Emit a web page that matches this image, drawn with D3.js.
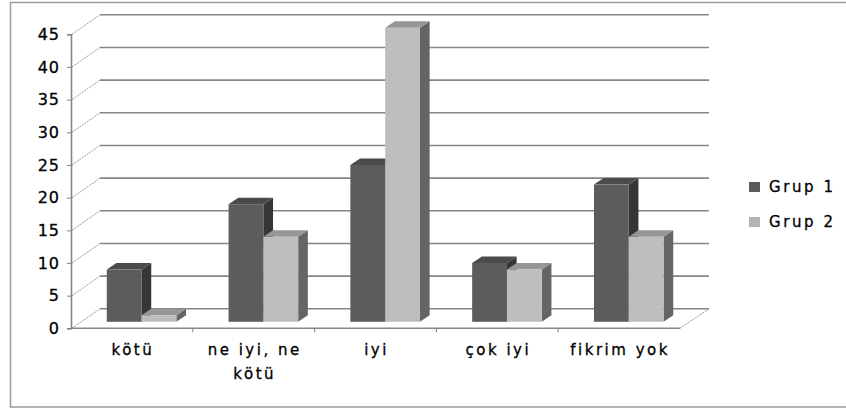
<!DOCTYPE html>
<html>
<head>
<meta charset="utf-8">
<script src="https://cdn.jsdelivr.net/npm/d3@7"></script>
<style>
  body { margin: 0; background: #fff; }
  svg { display: block; }
  text { font-family: "DejaVu Sans", Verdana, sans-serif; fill: #000; stroke: #000; stroke-width: 0.3px; }
</style>
</head>
<body>
<div id="chart"></div>
<script>
// data
var categories = ['kötü', 'ne iyi, ne kötü', 'iyi', 'çok iyi', 'fikrim yok'];
var seriesNames = ['Grup 1', 'Grup 2'];
var grup1 = [8, 18, 24, 9, 21];
var grup2 = [1, 13, 45, 8, 13];
var yTicks = [0, 5, 10, 15, 20, 25, 30, 35, 40, 45];

var width = 846, height = 410;

// 3d depth of the plot box, and where bars sit inside it
var depth = { dx: 29, dy: -19.5 };
var barFront = 1 / 3, barBack = 2 / 3;

var x = d3.scaleBand()
  .domain(categories)
  .range([71, 680]);

var y = d3.scaleLinear()
  .domain([0, 45])
  .range([328.3, 34.3]);

var barW = x.bandwidth() / 3.5;
var groupOff = (x.bandwidth() - 2 * barW) / 2;

var svg = d3.select('#chart')
  .append('svg')
  .attr('width', width)
  .attr('height', height);

var defs = svg.append('defs');
var pat = defs.append('pattern')
  .attr('id', 'hatch')
  .attr('width', 2).attr('height', 2)
  .attr('patternUnits', 'userSpaceOnUse');
pat.append('rect').attr('width', 2).attr('height', 2).attr('fill', '#c6c6c6');
pat.append('rect').attr('width', 1).attr('height', 1).attr('fill', '#b2b2b2');
pat.append('rect').attr('x', 1).attr('y', 1).attr('width', 1).attr('height', 1).attr('fill', '#b8b8b8');

// outer frame
svg.append('rect')
  .attr('x', 10.5).attr('y', 2.5)
  .attr('width', 850).attr('height', 404.5)
  .attr('fill', 'none')
  .attr('stroke', '#9a9a9a')
  .attr('stroke-width', 1.5);

var x0 = x.range()[0], x1 = x.range()[1];

// back wall gridlines
svg.append('g').selectAll('line')
  .data(yTicks)
  .enter()
  .append('line')
  .attr('x1', x0 + depth.dx)
  .attr('x2', x1 + depth.dx)
  .attr('y1', function(d) { return y(d) + depth.dy; })
  .attr('y2', function(d) { return y(d) + depth.dy; })
  .attr('stroke', '#858585')
  .attr('stroke-width', 1.6);

// side wall diagonals
svg.append('g').selectAll('line')
  .data(yTicks)
  .enter()
  .append('line')
  .attr('x1', x0 + 1)
  .attr('x2', x0 + depth.dx)
  .attr('y1', function(d) { return y(d); })
  .attr('y2', function(d) { return y(d) + depth.dy; })
  .attr('stroke', '#999')
  .attr('stroke-width', 1)
  .attr('stroke-dasharray', '2,1');

// floor right edge
svg.append('line')
  .attr('x1', x1).attr('y1', y(0))
  .attr('x2', x1 + depth.dx).attr('y2', y(0) + depth.dy)
  .attr('stroke', '#999')
  .attr('stroke-width', 1)
  .attr('stroke-dasharray', '2,1');

// bars
var colors = [
  { front: '#5c5c5c', side: '#363636', top: '#4b4b4b' },
  { front: 'url(#hatch)', side: '#656565', top: '#969696' }
];
var series = [grup1, grup2];

var fx = depth.dx * barFront, fy = depth.dy * barFront;
var bx = depth.dx * (barBack - barFront), by = depth.dy * (barBack - barFront);

var bars = [];
categories.forEach(function(c, ci) {
  series.forEach(function(s, si) {
    bars.push({ cat: c, si: si, value: s[ci] });
  });
});

var barG = svg.append('g').selectAll('g')
  .data(bars)
  .enter()
  .append('g');

function pts(arr) {
  return arr.map(function(p) { return p.join(','); }).join(' ');
}

barG.each(function(d) {
  var g = d3.select(this);
  var left = x(d.cat) + groupOff + barW * d.si + fx;
  var right = left + barW;
  var top = y(d.value) + fy;
  var bot = y(0) + fy;
  var col = colors[d.si];
  g.append('polygon')
    .attr('points', pts([[right, top], [right + bx, top + by], [right + bx, bot + by], [right, bot]]))
    .attr('fill', col.side);
  g.append('polygon')
    .attr('points', pts([[left, top], [right, top], [right + bx, top + by], [left + bx, top + by]]))
    .attr('fill', col.top);
  g.append('rect')
    .attr('x', left).attr('y', top)
    .attr('width', barW).attr('height', bot - top)
    .attr('fill', col.front);
});

// floor front edge
svg.append('line')
  .attr('x1', x0).attr('x2', x1)
  .attr('y1', y(0)).attr('y2', y(0))
  .attr('stroke', '#858585')
  .attr('stroke-width', 1.6);

// category ticks
svg.append('g').selectAll('line')
  .data(categories.slice(1))
  .enter()
  .append('line')
  .attr('x1', function(d) { return x(d); })
  .attr('x2', function(d) { return x(d); })
  .attr('y1', y(0)).attr('y2', y(0) + 4)
  .attr('stroke', '#858585');

// y axis
var yAxis = d3.axisLeft(y)
  .tickValues(yTicks)
  .tickSize(4)
  .tickPadding(7);

var ag = svg.append('g')
  .attr('transform', 'translate(' + x0 + ',0)')
  .call(yAxis);
ag.select('.domain').attr('stroke', '#858585').attr('stroke-width', 1.6);
ag.selectAll('.tick line').attr('stroke', '#858585');
ag.selectAll('.tick text')
  .style('font-family', '"DejaVu Sans", Verdana, sans-serif')
  .style('font-size', '16px')
  .style('letter-spacing', '1px')
  .attr('fill', '#000');

// category labels
function wrap(label) {
  if (label.length <= 12) return [label];
  var i = label.lastIndexOf(' ');
  return [label.slice(0, i), label.slice(i + 1)];
}

svg.append('g').selectAll('text')
  .data(categories)
  .enter()
  .append('text')
  .attr('text-anchor', 'middle')
  .style('font-size', '15px')
  .style('letter-spacing', '2.5px')
  .each(function(d) {
    var t = d3.select(this);
    var cx = x(d) + x.bandwidth() / 2 + 1;
    wrap(d).forEach(function(line, li) {
      t.append('tspan')
        .attr('x', cx)
        .attr('y', 355 + li * 24)
        .text(line);
    });
  });

// legend
var lg = svg.append('g').selectAll('g')
  .data(seriesNames)
  .enter()
  .append('g')
  .attr('transform', function(d, i) { return 'translate(749,' + (182 + i * 35) + ')'; });

lg.append('rect')
  .attr('width', 11).attr('height', 10)
  .attr('fill', function(d, i) { return i === 0 ? '#5c5c5c' : '#b4b4b4'; });

lg.append('text')
  .attr('x', 20)
  .attr('y', 10)
  .style('font-size', '15px')
  .style('letter-spacing', '2.6px')
  .text(function(d) { return d; });
</script>
</body>
</html>
